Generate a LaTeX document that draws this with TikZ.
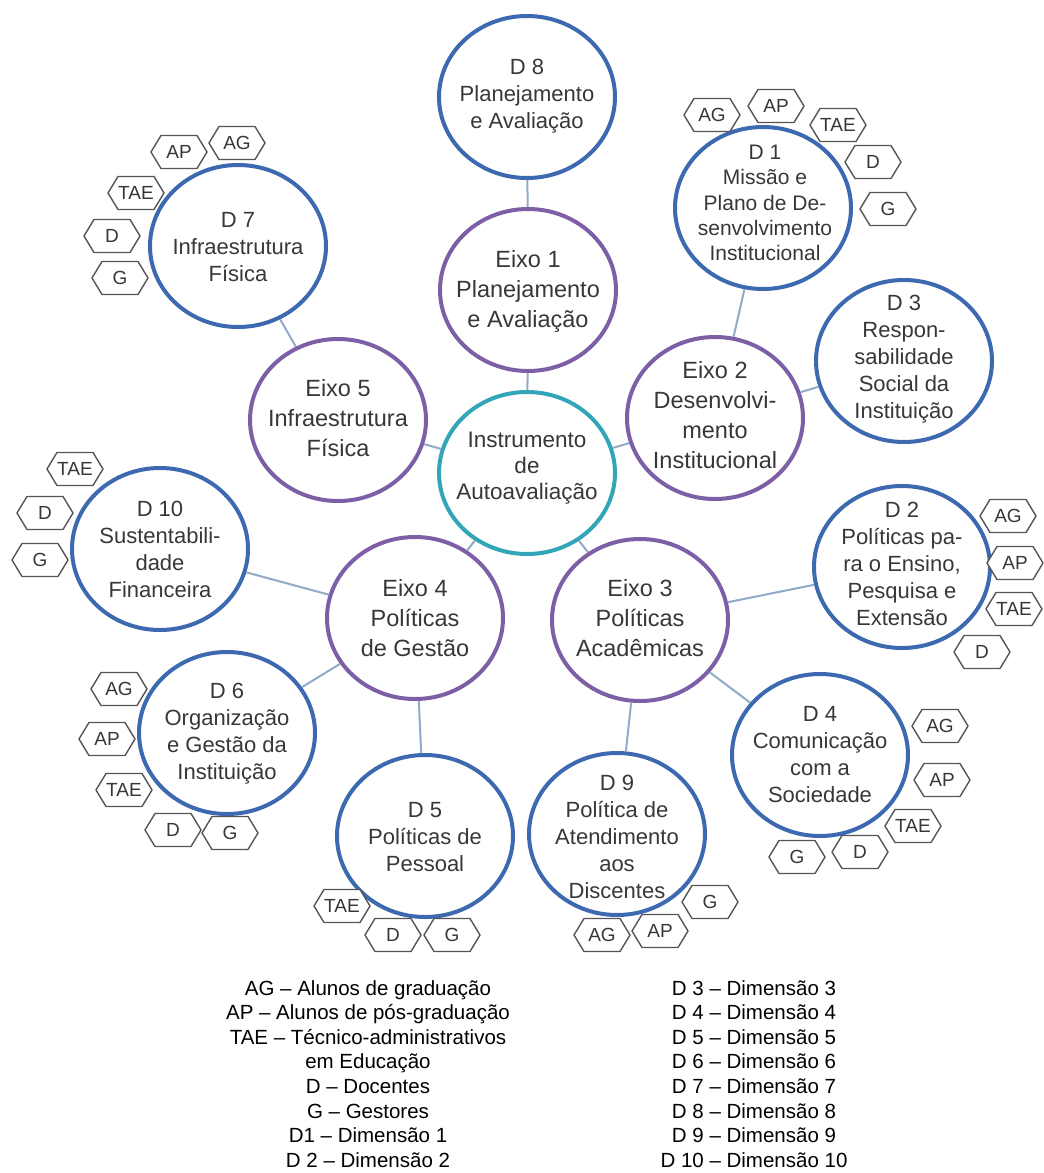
\documentclass[tikz,border=0pt]{standalone}
\usepackage{fontspec}
\setmainfont{Liberation Sans}
\usetikzlibrary{shapes.geometric}
\definecolor{dblue}{RGB}{60,105,175}
\definecolor{epurple}{RGB}{125,95,165}
\definecolor{cteal}{RGB}{50,165,185}
\definecolor{conn}{RGB}{145,170,200}
\definecolor{txtgray}{RGB}{55,55,55}
\definecolor{tagline}{RGB}{85,85,85}
\tikzset{
  ring/.style={ellipse, minimum width=176pt, minimum height=162pt, inner sep=0pt, line width=4pt},
  dring/.style={ring, draw=dblue},
  ering/.style={ring, draw=epurple},
  cring/.style={ring, draw=cteal},
  ctext/.style={align=center, text=txtgray, font=\fontsize{22}{27}\selectfont, inner sep=0pt},
  smalltext/.style={ctext, font=\fontsize{21}{25.3}\selectfont},
  etext/.style={ctext, font=\fontsize{23.5}{30}\selectfont},
  mtext/.style={ctext, font=\fontsize{22.5}{26}\selectfont},
  hexline/.style={draw=tagline, fill=white, line width=1.4pt, line join=round},
  tagtxt/.style={text=txtgray, font=\fontsize{19}{19}\selectfont, inner sep=0pt},
  link/.style={draw=conn, line width=2pt},
  legendtext/.style={align=center, font=\fontsize{20.5}{24.6}\selectfont, inner sep=0pt, anchor=north}
}
\newcommand\hextag[4]{%
  \filldraw[hexline, shift={(#2,#3)}] (-28,0) -- (-18,-16.5) -- (18,-16.5) -- (28,0) -- (18,16.5) -- (-18,16.5) -- cycle;
  \node[tagtxt] (#1) at (#2,#3) {#4};}
\begin{document}
\begin{tikzpicture}[x=1pt, y=-1pt]
\useasboundingbox (0,0) rectangle (1044,1173);
% rings
\node[dring] (d8) at (527,97) {};
\node[ering] (e1) at (528,290) {};
\node[cring] (ce) at (527,473) {};
\node[ering] (e5) at (338,420) {};
\node[ering] (e2) at (715,418) {};
\node[ering] (e4) at (415,618) {};
\node[ering] (e3) at (640,620) {};
\node[dring] (d1) at (763,208) {};
\node[dring] (d7) at (238,246) {};
\node[dring] (d3) at (904,361) {};
\node[dring] (d2) at (902,567) {};
\node[dring] (d10) at (160,549) {};
\node[dring] (d6) at (227,733) {};
\node[dring] (d5) at (425,836) {};
\node[dring] (d9) at (617,834) {};
\node[dring] (d4) at (820,755) {};
% connectors
\draw[link] (d8) -- (e1);
\draw[link] (e1) -- (ce);
\draw[link] (ce) -- (e5);
\draw[link] (ce) -- (e2);
\draw[link] (ce) -- (e4);
\draw[link] (ce) -- (e3);
\draw[link] (e5) -- (d7);
\draw[link] (e2) -- (d1);
\draw[link] (e2) -- (d3);
\draw[link] (e4) -- (d10);
\draw[link] (e4) -- (d6);
\draw[link] (e4) -- (d5);
\draw[link] (e3) -- (d2);
\draw[link] (e3) -- (d9);
\draw[link] (e3) -- (d4);
% texts
\node[ctext] (d8t) at (527,96) {D 8\\Planejamento\\e Avaliação};
\node[etext] (e1t) at (528,291) {Eixo 1\\Planejamento\\e Avaliação};
\node[mtext] (cet) at (527,468) {Instrumento\\de\\Autoavaliação};
\node[etext] (e5t) at (338,418) {Eixo 5\\Infraestrutura\\Física};
\node[etext] (e2t) at (715,415) {Eixo 2\\Desenvolvi-\\mento\\Institucional};
\node[etext] (e4t) at (415,618) {Eixo 4\\Políticas\\de Gestão};
\node[etext] (e3t) at (640,618) {Eixo 3\\Políticas\\Acadêmicas};
\node[smalltext] (d1t) at (765,203) {D 1\\Missão e\\Plano de De-\\senvolvimento\\Institucional};
\node[ctext] (d7t) at (238,247) {D 7\\Infraestrutura\\Física};
\node[ctext] (d3t) at (904,359) {D 3\\Respon-\\sabilidade\\Social da\\Instituição};
\node[ctext] (d2t) at (902,564) {D 2\\Políticas pa-\\ra o Ensino,\\Pesquisa e\\Extensão};
\node[ctext] (d10t) at (160,549) {D 10\\Sustentabili-\\dade\\Financeira};
\node[ctext] (d6t) at (227,734) {D 6\\Organização\\e Gestão da\\Instituição};
\node[ctext] (d5t) at (425,837) {D 5\\Políticas de\\Pessoal};
\node[ctext] (d9t) at (617,837) {D 9\\Política de\\Atendimento\\aos\\Discentes};
\node[ctext] (d4t) at (820,755) {D 4\\Comunicação\\com a\\Sociedade};
% tags D7
\hextag{t7ag}{237}{143}{AG}
\hextag{t7ap}{179}{152}{AP}
\hextag{t7tae}{136}{193}{TAE}
\hextag{t7d}{112}{236}{D}
\hextag{t7g}{120}{278}{G}
% tags D1
\hextag{t1ag}{712}{115}{AG}
\hextag{t1ap}{776}{106}{AP}
\hextag{t1tae}{838}{125}{TAE}
\hextag{t1d}{873}{162}{D}
\hextag{t1g}{888}{209}{G}
% tags D10
\hextag{t10tae}{75}{469}{TAE}
\hextag{t10d}{45}{513}{D}
\hextag{t10g}{40}{560}{G}
% tags D2
\hextag{t2ag}{1008}{516}{AG}
\hextag{t2ap}{1015}{563}{AP}
\hextag{t2tae}{1014}{609}{TAE}
\hextag{t2d}{982}{652}{D}
% tags D6
\hextag{t6ag}{119}{689}{AG}
\hextag{t6ap}{107}{739}{AP}
\hextag{t6tae}{124}{790}{TAE}
\hextag{t6d}{173}{830}{D}
\hextag{t6g}{230}{833}{G}
% tags D4
\hextag{t4ag}{940}{726}{AG}
\hextag{t4ap}{942}{780}{AP}
\hextag{t4tae}{913}{826}{TAE}
\hextag{t4d}{860}{852}{D}
\hextag{t4g}{797}{857}{G}
% tags D5
\hextag{t5tae}{342}{906}{TAE}
\hextag{t5d}{393}{935}{D}
\hextag{t5g}{452}{935}{G}
% tags D9
\hextag{t9g}{710}{902}{G}
\hextag{t9ag}{602}{935}{AG}
\hextag{t9ap}{660}{931}{AP}
% legend
\node[legendtext] (legl) at (368,980) {AG – Alunos de graduação\\AP – Alunos de pós-graduação\\TAE – Técnico-administrativos\\em Educação\\D – Docentes\\G – Gestores\\D1 – Dimensão 1\\D 2 – Dimensão 2};
\node[legendtext] (legr) at (754,980) {D 3 – Dimensão 3\\D 4 – Dimensão 4\\D 5 – Dimensão 5\\D 6 – Dimensão 6\\D 7 – Dimensão 7\\D 8 – Dimensão 8\\D 9 – Dimensão 9\\D 10 – Dimensão 10};
\end{tikzpicture}
\end{document}
